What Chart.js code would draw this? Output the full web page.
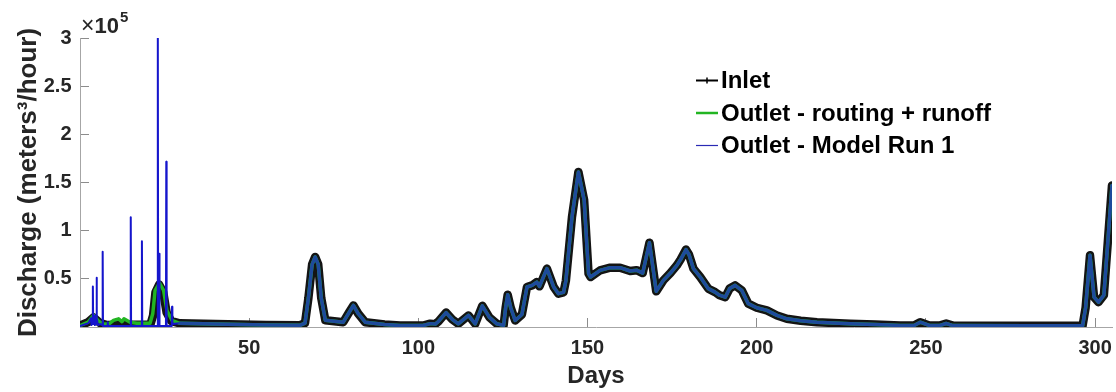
<!DOCTYPE html>
<html>
<head>
<meta charset="utf-8">
<script src="https://cdn.jsdelivr.net/npm/chart.js@4.4.1/dist/chart.umd.min.js"></script>
<style>
html, body { margin: 0; padding: 0; background: #fff; }
canvas { display: block; }
</style>
</head>
<body>
<canvas id="myChart" width="1116" height="392"></canvas>
<script>
var FONT = '"Liberation Sans", Arial, Helvetica, sans-serif';

var seriesNames = ['Inlet', 'Outlet - routing + runoff', 'Outlet - Model Run 1'];
var xTicks = [50, 100, 150, 200, 250, 300];
var yTicks = [50000, 100000, 150000, 200000, 250000, 300000];

// inlet discharge (m3/hour)
var inletDays = [0, 2.4, 4, 6, 8, 20.8, 21.6, 22.3, 23.4, 24.6, 25.6, 27, 29.5, 40, 55, 65,
  66.5, 67.5, 68.6, 69.5, 70.4, 71.3, 72.5, 77.8, 79.5, 80.8, 82.2, 84.3, 90, 94.6, 101.4,
  103.5, 105, 106, 108.2, 110, 111.8, 114.8, 116.8, 118.9, 121, 123.2, 125.2, 125.8, 126.4,
  127.3, 128.6, 130.6, 132.1, 133.6, 135, 135.8, 138, 140, 141.4, 142.9, 143.6, 145.4, 147.3,
  149, 150.3, 150.9, 153.7, 156.7, 159.6, 162.6, 164.5, 166.3, 168.3, 170.3, 172.4, 174.5,
  176.4, 177.5, 179.1, 180, 181.3, 183.3, 185.7, 187.7, 189, 190.7, 192, 193.6, 195.6, 197.5,
  200, 203, 206, 208.9, 213, 217.8, 227.6, 235, 242.4, 246.5, 248.3, 251, 254, 256, 258, 280,
  296.3, 297.2, 298.5, 299.7, 301, 302.6, 305];
var inletQ = [1500, 5000, 10000, 4000, 2000, 2500, 12000, 36000, 44000, 36000, 15000, 6000, 3800, 3000, 2200, 1800,
  4000, 30000, 65000, 72700, 65000, 30000, 7000, 5000, 15000, 22400, 14000, 5000, 2500, 1500, 1500,
  3500, 3000, 6000, 15000, 8000, 3300, 12000, 3300, 22000, 10000, 3300, 1700, 20000, 33500,
  20000, 6800, 13000, 41500, 43200, 46600, 42200, 60600, 41500, 34600, 36000, 48000, 114000, 161000,
  131700, 55400, 51900, 58800, 61600, 61600, 58100, 59000, 56000, 87500, 37000, 48400, 56000,
  64000, 70000, 80400, 75000, 60600, 51900, 39800, 36200, 33000, 31000, 40000, 43200, 38000, 24200,
  20000, 17200, 12000, 8500, 6500, 5000, 3300, 2500, 1600, 1600, 5000, 1600, 1500, 3600, 1500, 1200,
  1200, 20000, 74400, 31000, 25800, 33000, 147000];

// first weeks of the routing + runoff outlet (later it sits on the inlet)
var routingDays = [0, 2.4, 4, 5.5, 7, 8.5, 9.9, 11.4, 12.4, 13, 14.8, 16.8, 20.7, 21.5, 22.2, 23.5, 24.7, 25.7, 27.2, 29.5];
var routingQ = [1500, 5000, 12000, 6000, 3000, 3000, 6800, 8500, 5500, 8500, 5000, 4000, 4000, 13700, 38000, 45600, 38000, 17200, 6800, 3800];

// first weeks of model run 1, with its spikes
var modelDays = [0, 2.5, 3.2, 3.4, 3.7, 3.8, 3.9, 4.1, 4.4, 4.6, 4.8, 4.9, 5.0, 5.3, 6, 6.6, 6.7, 6.8, 8.1, 8.2, 8.3,
  14.9, 15.0, 15.1, 18.2, 18.3, 18.4, 22.9, 23.0, 23.1, 23.35, 23.45, 23.55, 25.4, 25.5, 25.6, 27.1, 27.2, 27.3, 29.5];
var modelQ = [1000, 4000, 9000, 2000, 10000, 42000, 3000, 12000, 2000, 12000, 3000, 51000, 9000, 2000, 3000, 2000, 78000, 1000, 1000, 5000, 1000,
  1000, 114000, 1000, 1000, 89000, 1000, 1000, 300000, 1000, 1000, 76000, 1000, 1000, 171500, 1000, 1000, 21000, 3000, 3800];

var joinDay = 29.5;

function toPoints(days, q) {
  return days.map(function (d, i) { return {x: d, y: q[i]}; });
}
var inletPts = toPoints(inletDays, inletQ);
var inletTail = inletPts.filter(function (p) { return p.x > joinDay; });

var legendPlugin = {
  id: 'matlabLegend',
  afterDraw: function (chart) {
    var ctx = chart.ctx;
    ctx.save();
    // x10^5 multiplier
    ctx.fillStyle = '#262626';
    ctx.textBaseline = 'alphabetic';
    ctx.textAlign = 'left';
    ctx.font = 'normal 23px ' + FONT;
    ctx.fillText('\u00d7', 81, 33);
    var w = ctx.measureText('\u00d7').width;
    ctx.font = 'bold 22px ' + FONT;
    ctx.fillText('10', 81 + w, 33);
    var w2 = ctx.measureText('10').width;
    ctx.font = 'bold 15px ' + FONT;
    ctx.fillText('5', 82 + w + w2, 22);

    // legend
    var rows = [80.5, 113, 145.5];
    var styles = [
      {color: '#000000', width: 2},
      {color: '#22b522', width: 2.5},
      {color: '#2a2ab4', width: 1.2}
    ];
    ctx.font = 'bold 24px ' + FONT;
    ctx.textBaseline = 'middle';
    for (var i = 0; i < rows.length; i++) {
      ctx.strokeStyle = styles[i].color;
      ctx.lineWidth = styles[i].width;
      ctx.beginPath();
      ctx.moveTo(696, rows[i]);
      ctx.lineTo(718, rows[i]);
      ctx.stroke();
      if (i === 0) {
        ctx.lineWidth = 1.5;
        ctx.beginPath();
        ctx.moveTo(707, rows[i] - 3);
        ctx.lineTo(707, rows[i] + 3);
        ctx.stroke();
      }
      ctx.fillStyle = '#000';
      ctx.fillText(seriesNames[i], 721, rows[i] + 1);
    }
    ctx.restore();
  }
};

var tickFont = {family: FONT, size: 20, weight: 'bold'};

var ctx = document.getElementById('myChart').getContext('2d');
var myChart = new Chart(ctx, {
  type: 'line',
  data: {
    datasets: [{
      label: seriesNames[0],
      data: inletPts,
      borderColor: '#141414',
      borderWidth: 8.5,
      order: 3
    }, {
      label: seriesNames[1],
      data: toPoints(routingDays, routingQ).concat(inletTail),
      borderColor: '#22b522',
      borderWidth: 3.5,
      order: 2
    }, {
      label: seriesNames[2],
      data: toPoints(modelDays, modelQ).concat(inletTail),
      borderColor: '#1e4a9c',
      borderWidth: 3.5,
      order: 1,
      segment: {
        borderColor: function (c) { return c.p0.parsed.x < joinDay ? '#1515cc' : '#1e4a9c'; },
        borderWidth: function (c) { return c.p0.parsed.x < joinDay ? 2 : 3.5; }
      }
    }]
  },
  options: {
    responsive: false,
    animation: false,
    events: [],
    layout: {padding: {top: 38, right: 4, bottom: 0, left: 0}},
    elements: {
      point: {radius: 0},
      line: {tension: 0, borderJoinStyle: 'round', borderCapStyle: 'round', fill: false}
    },
    plugins: {legend: {display: false}, tooltip: {enabled: false}},
    scales: {
      x: {
        type: 'linear',
        min: 0,
        max: 305,
        afterBuildTicks: function (s) { s.ticks = xTicks.map(function (v) { return {value: v}; }); },
        afterFit: function (s) { s.height = 65; s.paddingLeft = 0; s.paddingRight = 0; },
        grid: {drawOnChartArea: false, tickLength: -9, color: '#8c8c8c', lineWidth: 1},
        border: {color: '#a6a6a6', width: 1},
        ticks: {padding: 18, color: '#262626', font: tickFont, maxRotation: 0, autoSkip: false},
        title: {display: true, text: 'Days', color: '#262626',
          font: {family: FONT, size: 24, weight: 'bold'}, padding: {top: 0, bottom: 1}}
      },
      y: {
        type: 'linear',
        min: 0,
        max: 300000,
        afterBuildTicks: function (s) { s.ticks = yTicks.map(function (v) { return {value: v}; }); },
        afterFit: function (s) { s.width = 80; s.paddingTop = 0; s.paddingBottom = 0; },
        grid: {drawOnChartArea: false, tickLength: -9, color: '#8c8c8c', lineWidth: 1},
        border: {color: '#a6a6a6', width: 1},
        ticks: {
          padding: 17.5, color: '#262626', font: tickFont,
          callback: function (v) { return String(v / 100000); }
        },
        title: {display: true, text: 'Discharge (meters\u00b3/hour)', color: '#262626',
          font: {family: FONT, size: 26, weight: 'bold'}, padding: {top: 13, bottom: 0}}
      }
    }
  },
  plugins: [legendPlugin]
});
</script>
</body>
</html>
